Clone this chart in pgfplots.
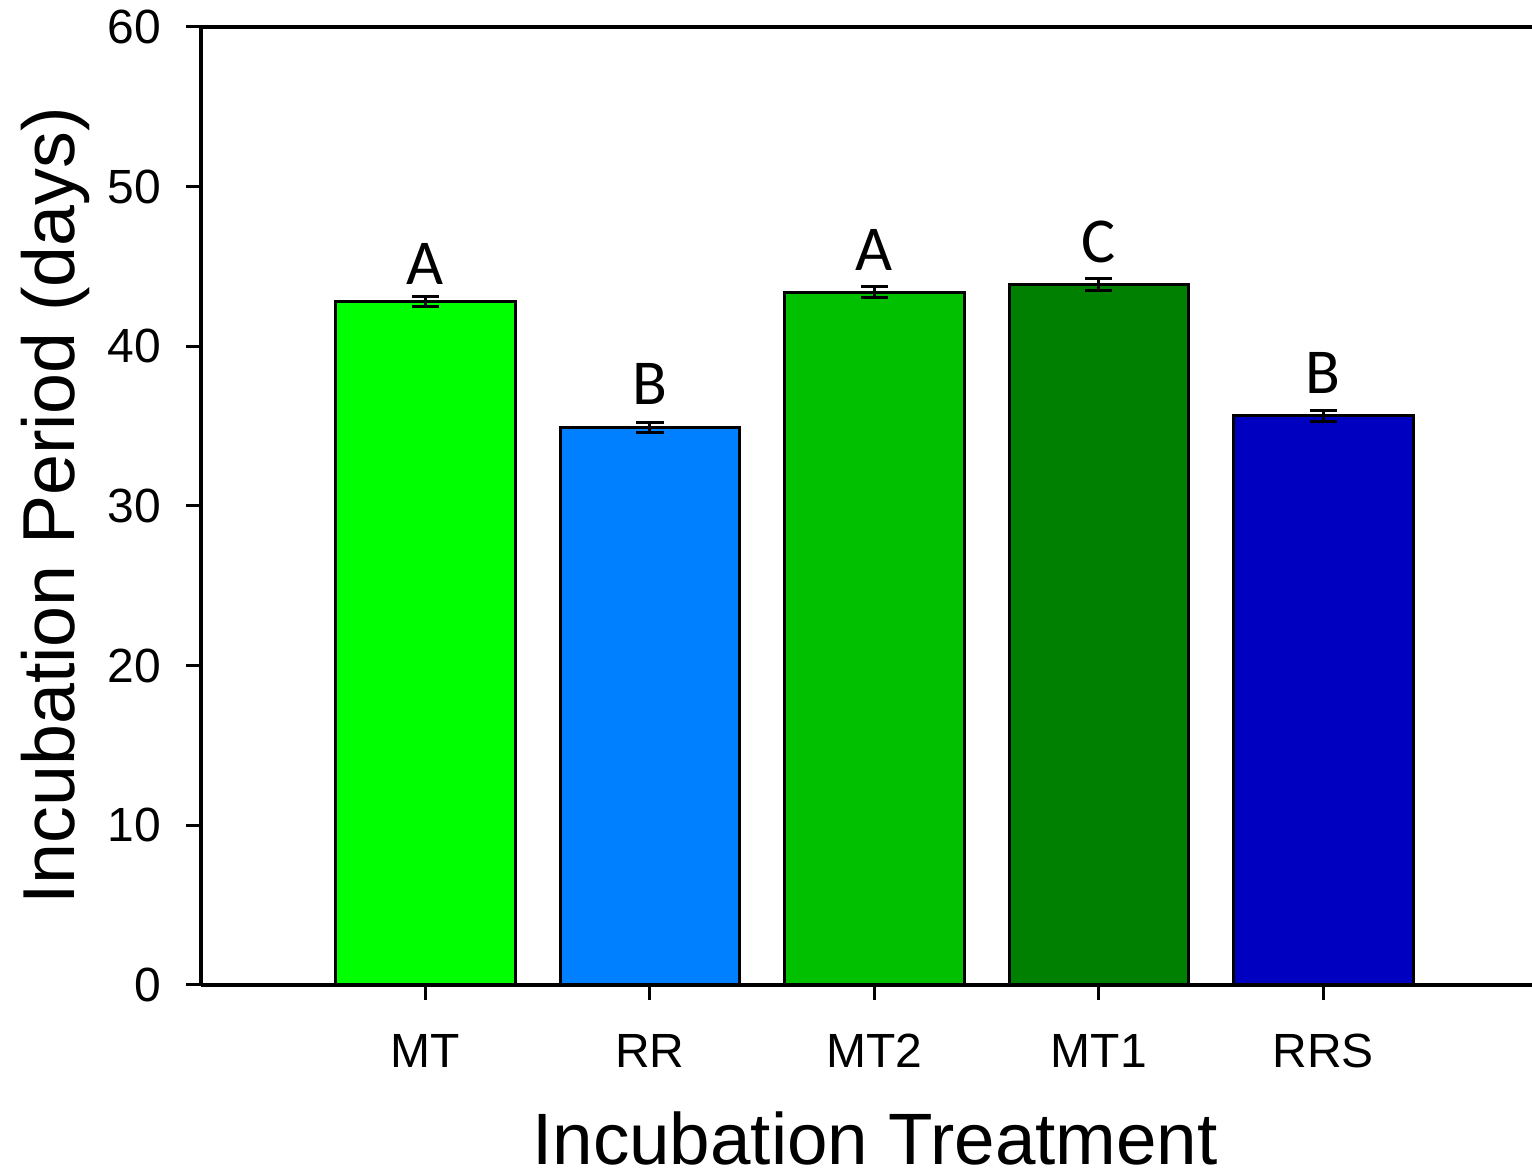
\documentclass[border=0pt]{standalone}
\usepackage{pgfplots}
\pgfplotsset{compat=1.18}
\usepackage{fontspec}
\setmainfont{Liberation Sans}
\newfontfamily\carlito{Carlito}
\definecolor{cMT}{RGB}{0,255,0}
\definecolor{cRR}{RGB}{0,128,255}
\definecolor{cMTtwo}{RGB}{0,192,0}
\definecolor{cMTone}{RGB}{0,128,0}
\definecolor{cRRS}{RGB}{0,0,192}
\begin{document}
\begin{tikzpicture}
\begin{axis}[
  scale only axis, width=332.75bp, height=239.5bp,
  xmin=-1, xmax=4.93, ymin=0, ymax=60,
  ybar, bar width=0.8,
  axis x line*=bottom, axis y line*=left,
  axis line style={line width=1bp, black},
  xtick={0,1,2,3,4}, xticklabels={MT,RR,MT2,MT1,RRS},
  ytick={0,10,20,30,40,50,60},
  tick align=outside, major tick length=3.75bp,
  tick style={line width=0.75bp, black},
  /pgf/number format/assume math mode=true,
  tick label style={font=\fontsize{12bp}{14bp}\selectfont},
  yticklabel style={anchor=east, inner sep=0pt, xshift=-6bp},
  xticklabel style={anchor=base, inner sep=0pt, yshift=-17bp},
  xlabel={Incubation Treatment}, ylabel={Incubation Period (days)},
  every axis x label/.style={at={(axis description cs:0.5064,-0.1879)}, anchor=base, font=\fontsize{18.2bp}{22bp}\selectfont},
  every axis y label/.style={at={(axis description cs:-0.0947,0.5)}, rotate=90, anchor=base, font=\fontsize{18.4bp}{22bp}\selectfont},
  clip=false,
  error bars/error bar style={line width=0.75bp, black},
  error bars/error mark options={rotate=90, mark size=3.4bp, line width=0.75bp, black},
]
\addplot[fill=cMT, draw=black, line width=0.75bp, bar shift=0pt,
  error bars/.cd, y dir=both, y explicit] coordinates {(0,42.80) +- (0,0.33)};
\addplot[fill=cRR, draw=black, line width=0.75bp, bar shift=0pt,
  error bars/.cd, y dir=both, y explicit] coordinates {(1,34.92) +- (0,0.30)};
\addplot[fill=cMTtwo, draw=black, line width=0.75bp, bar shift=0pt,
  error bars/.cd, y dir=both, y explicit] coordinates {(2,43.40) +- (0,0.35)};
\addplot[fill=cMTone, draw=black, line width=0.75bp, bar shift=0pt,
  error bars/.cd, y dir=both, y explicit] coordinates {(3,43.87) +- (0,0.35)};
\addplot[fill=cRRS, draw=black, line width=0.75bp, bar shift=0pt,
  error bars/.cd, y dir=both, y explicit] coordinates {(4,35.64) +- (0,0.35)};
\addplot[draw=none, fill=none, bar shift=0pt, nodes near coords, point meta=explicit symbolic,
  every node near coord/.append style={font=\carlito\fontsize{16bp}{19bp}\selectfont, inner sep=0pt, anchor=south, black}]
  coordinates {(0,43.84)[A] (1,36.33)[B] (2,44.67)[A] (3,45.16)[C] (4,37.0)[B]};
\draw[line width=1bp, black] (rel axis cs:0,1) -- (rel axis cs:1,1);
\coordinate (bl) at (rel axis cs:0,0);
\coordinate (tr) at (rel axis cs:1,1);
\end{axis}
\pgfresetboundingbox
\path ([xshift=-50.25bp,yshift=-47.5bp]bl) rectangle ([yshift=6.75bp]tr);
\end{tikzpicture}
\end{document}
